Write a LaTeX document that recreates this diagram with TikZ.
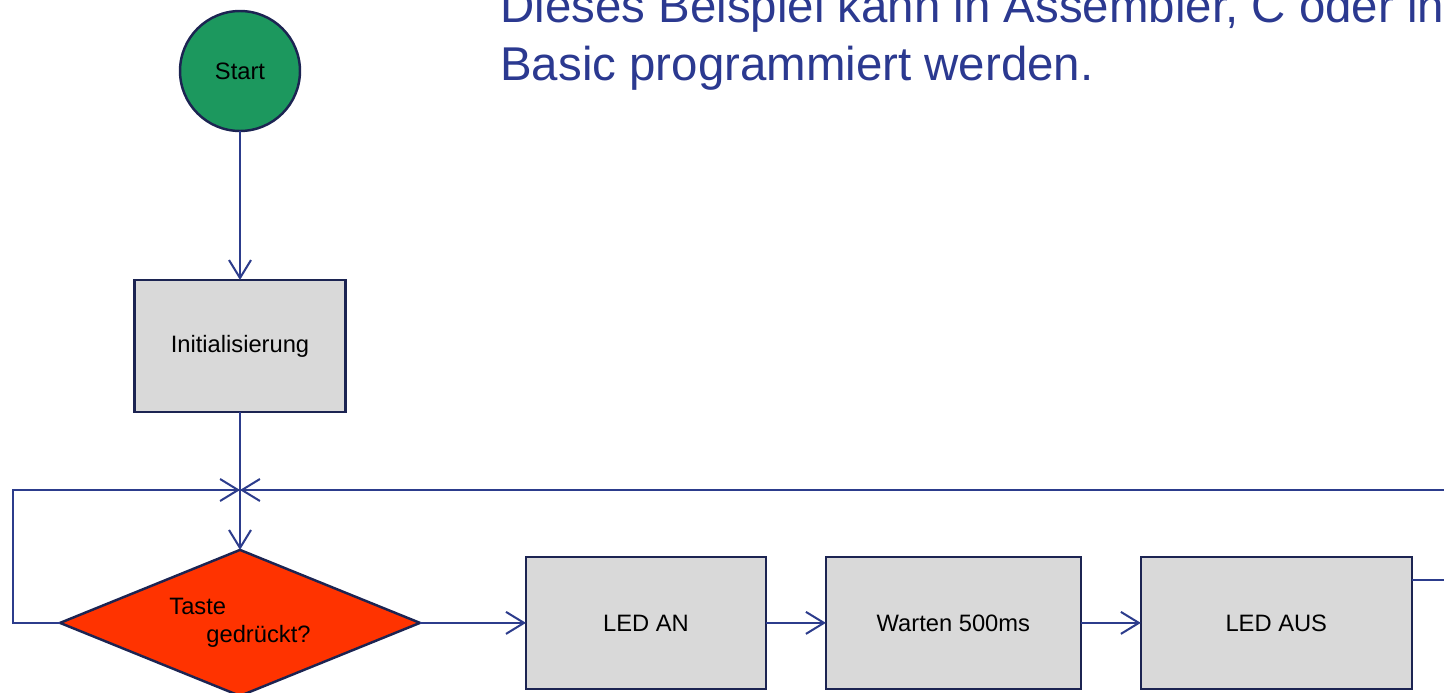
\documentclass[tikz,border=0pt]{standalone}
\usepackage{fontspec}
\setmainfont{Liberation Sans}
\usepackage{xcolor}
\usetikzlibrary{arrows.meta,positioning,shapes.geometric}

\definecolor{linenavy}{RGB}{44,60,140}
\definecolor{bordernavy}{RGB}{28,36,82}
\definecolor{titleblue}{RGB}{43,57,144}
\definecolor{startgreen}{RGB}{28,152,94}
\definecolor{boxgray}{RGB}{217,217,217}
\definecolor{decisionred}{RGB}{255,51,0}

\begin{document}
\begin{tikzpicture}[
        x=0.02cm, y=-0.02cm,
        font=\fontsize{13.5}{15.8}\selectfont,
        >={Straight Barb[length=0.36cm,width=0.44cm]},
        node distance=1.2cm,
        block/.style={rectangle,draw=bordernavy,line width=1.4pt,fill=boxgray,minimum height=2.64cm,inner sep=0pt,outer sep=0pt,align=center},
        startnode/.style={circle,draw=bordernavy,line width=1.4pt,fill=startgreen,minimum size=2.4cm,inner sep=0pt,outer sep=0pt},
        decision/.style={diamond,draw=bordernavy,line width=1.4pt,fill=decisionred,aspect=2.47,minimum width=7.2cm,minimum height=2.92cm,inner sep=0pt,outer sep=0pt,align=left},
        arrow/.style={->,draw=linenavy,line width=1.15pt}
    ]
        \useasboundingbox (0,0) rectangle (1444,693);
        \clip (0,0) rectangle (1444,693);

        \node[anchor=base west,font=\fontsize{27}{33}\selectfont,text=titleblue,align=left,inner sep=0pt] (title) at (500,80) {Dieses Beispiel kann in Assembler, C oder in\\Basic programmiert werden.};

        \node[startnode] (start) at (240,71) {Start};
        \node[block,minimum width=4.22cm,below=2.98cm of start] (init) {Initialisierung};
        \node[decision,below=2.76cm of init] (taste) {Taste\\\hspace*{0.74cm}gedrückt?};
        \node[block,minimum width=4.8cm,right=2.12cm of taste] (ledan) {LED AN};
        \node[block,minimum width=5.1cm,right=of ledan] (warten) {Warten 500ms};
        \node[block,minimum width=5.42cm,right=of warten] (ledaus) {LED AUS};

        \coordinate (merge) at (240,490);
        \coordinate (loopl) at (13,490);
        \coordinate (rtop) at (1460,490);
        \coordinate (rout) at (1460,580);

        \draw[arrow] (start) -- (init);
        \draw[arrow] (init) -- (merge) -- (taste);
        \draw[arrow] (taste.west) -| (loopl) -- (merge);
        \draw[arrow] (rtop) -- (merge);
        \draw[arrow] (taste) -- (ledan);
        \draw[arrow] (ledan) -- (warten);
        \draw[arrow] (warten) -- (ledaus);
        \draw[draw=linenavy,line width=1.15pt] (ledaus.east |- rout) -- (rout);
    \end{tikzpicture}
\end{document}
